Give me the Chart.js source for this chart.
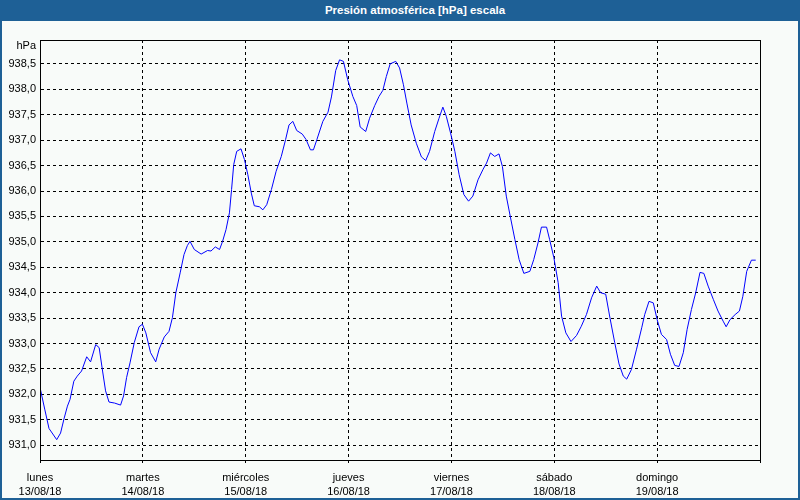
<!DOCTYPE html>
<html>
<head>
<meta charset="utf-8">
<script src="https://cdn.jsdelivr.net/npm/chart.js@4/dist/chart.umd.min.js"></script>
<style>
    html, body { margin: 0; padding: 0; background: #F8FBF9; }
    #wrap { position: relative; width: 800px; height: 500px; overflow: hidden; }
    #chart { position: absolute; left: 0; top: 0; }
    #title {
        position: absolute; left: 0; top: 0; width: 770px; height: 21px;
        padding-left: 30px;
        background: #1E6096; color: #fff;
        font: bold 11.5px "Liberation Sans", Arial, sans-serif;
        line-height: 21px; text-align: center;
    }
    #frame {
        position: absolute; left: 0; top: 0; width: 800px; height: 500px;
        box-sizing: border-box; border: 2px solid #1E6096; border-top: 0;
        pointer-events: none;
    }
</style>
</head>
<body>
<div id="wrap">
    <canvas id="chart" width="800" height="500"></canvas>
    <div id="title">Presión atmosférica [hPa] escala</div>
    <div id="frame"></div>
</div>
<script>
// Horas desde el lunes 13/08/18 00:00
const hours = [
    0.1, 1.1, 2.1, 3.9, 4.8, 5.6, 6.4, 7.0, 7.9, 8.7, 9.7, 10.9, 11.8, 13.0, 13.8, 14.6,
    15.3, 16.1, 17.4, 18.8, 19.5, 20.2, 21.0, 22.0, 23.1, 23.9, 24.7, 25.8, 27.0, 27.8,
    29.0, 30.1, 30.9, 31.7, 32.7, 33.6, 34.4, 35.0, 36.0, 37.6, 39.1, 39.9, 40.9, 41.9,
    42.6, 43.4, 44.2, 44.7, 45.2, 45.9, 46.9, 47.7, 48.5, 49.3, 50.0, 51.2, 52.0, 52.9,
    54.0, 55.1, 56.3, 57.3, 58.1, 59.0, 59.9, 61.2, 62.1, 63.1, 63.8, 64.6, 66.0, 67.2,
    68.0, 69.0, 69.9, 70.8, 71.8, 73.0, 73.9, 74.7, 76.0, 76.9, 78.1, 79.1, 80.0, 80.8,
    81.7, 83.0, 83.9, 84.8, 85.6, 86.6, 87.8, 89.0, 90.0, 90.9, 92.1, 93.1, 94.0, 94.8,
    95.8, 96.8, 97.8, 98.9, 100.0, 101.0, 102.2, 103.4, 104.2, 105.1, 106.1, 107.1, 107.9,
    108.8, 109.8, 110.8, 111.8, 112.9, 114.3, 115.2, 116.2, 117.0, 118.2, 118.9, 119.9,
    120.9, 121.7, 122.7, 123.9, 125.2, 126.3, 127.5, 128.7, 129.9, 130.8, 132.0, 133.0,
    134.1, 135.1, 136.1, 136.9, 138.0, 139.2, 140.4, 141.1, 142.1, 143.1, 144.0, 145.0,
    146.2, 147.1, 148.1, 149.1, 150.1, 151.0, 152.0, 153.0, 154.0, 154.9, 155.9, 157.1,
    158.2, 159.4, 160.1, 161.0, 162.2, 163.2, 164.0, 164.9, 166.0, 167.0
];

const pressure = [
    932.10, 931.71, 931.33, 931.11, 931.24, 931.52, 931.77, 931.90, 932.26, 932.36, 932.46, 932.74, 932.64, 932.98, 932.92, 932.46,
    932.07, 931.85, 931.83, 931.79, 931.97, 932.33, 932.62, 933.02, 933.33, 933.38, 933.21, 932.82, 932.64, 932.89,
    933.13, 933.24, 933.51, 934.00, 934.39, 934.75, 934.93, 935.01, 934.85, 934.76, 934.83, 934.82, 934.90, 934.85,
    935.01, 935.24, 935.57, 936.03, 936.52, 936.78, 936.83, 936.62, 936.32, 935.96, 935.71, 935.69, 935.63, 935.73,
    936.03, 936.39, 936.68, 937.01, 937.30, 937.37, 937.19, 937.12, 937.01, 936.81, 936.81, 937.01, 937.37, 937.55,
    937.85, 938.37, 938.58, 938.55, 938.19, 937.86, 937.68, 937.26, 937.17, 937.43, 937.68, 937.86, 937.98, 938.25,
    938.50, 938.55, 938.42, 938.09, 937.73, 937.30, 936.94, 936.67, 936.60, 936.78, 937.17, 937.43, 937.65, 937.47,
    937.14, 936.78, 936.32, 935.93, 935.80, 935.90, 936.22, 936.43, 936.55, 936.75, 936.68, 936.73, 936.48,
    935.90, 935.47, 935.05, 934.65, 934.38, 934.42, 934.65, 934.98, 935.29, 935.29, 935.05, 934.69,
    934.20, 933.54, 933.21, 933.04, 933.16, 933.34, 933.57, 933.90, 934.13, 934.00, 933.97, 933.50,
    933.02, 932.60, 932.36, 932.30, 932.49, 932.89, 933.31, 933.57, 933.83, 933.80, 933.47, 933.18,
    933.08, 932.79, 932.57, 932.55, 932.82, 933.28, 933.67, 934.00, 934.40, 934.38, 934.13, 933.87,
    933.64, 933.44, 933.33, 933.47, 933.57, 933.64, 933.93, 934.42, 934.64, 934.64
];

const dayNames = ['lunes', 'martes', 'miércoles', 'jueves', 'viernes', 'sábado', 'domingo'];
const dayDates = ['13/08/18', '14/08/18', '15/08/18', '16/08/18', '17/08/18', '18/08/18', '19/08/18'];
const yTickValues = [931.0, 931.5, 932.0, 932.5, 933.0, 933.5, 934.0, 934.5,
                     935.0, 935.5, 936.0, 936.5, 937.0, 937.5, 938.0, 938.5];

const FONT = '"Liberation Sans", Arial, sans-serif';

// Marco negro del área y unidad "hPa"
const framePlugin = {
    id: 'frame',
    afterDraw(chart) {
        const { ctx, chartArea: a } = chart;
        ctx.save();
        ctx.strokeStyle = '#000';
        ctx.lineWidth = 1;
        ctx.strokeRect(a.left + 0.5, a.top + 0.5, a.right - a.left, a.bottom - a.top);
        ctx.fillStyle = '#000';
        ctx.font = '11px ' + FONT;
        ctx.textAlign = 'right';
        ctx.textBaseline = 'middle';
        ctx.fillText('hPa', a.left - 4, a.top + 6);
        ctx.restore();
    }
};

new Chart(document.getElementById('chart'), {
    type: 'line',
    data: {
        datasets: [{
            data: hours.map((h, i) => ({ x: h, y: pressure[i] })),
            borderColor: '#0000FF',
            borderWidth: 1,
            pointRadius: 0,
            tension: 0,
            fill: false
        }]
    },
    options: {
        responsive: false,
        animation: false,
        events: [],
        layout: { padding: { left: 0, top: 40, right: 40, bottom: 0 } },
        plugins: { legend: { display: false }, tooltip: { enabled: false } },
        scales: {
            x: {
                type: 'linear',
                min: 0,
                max: 168,
                afterFit(scale) { scale.height = 40; },
                grid: { color: '#000', lineWidth: 1, drawTicks: true, tickLength: 3, tickColor: '#000', tickBorderDash: [] },
                border: { display: true, color: '#000', width: 1, dash: [3, 3] },
                ticks: {
                    stepSize: 24,
                    autoSkip: false,
                    maxRotation: 0,
                    padding: 8,
                    color: '#000',
                    font: { family: FONT, size: 11, lineHeight: 1.3 },
                    callback(value) {
                        const d = Math.round(value / 24);
                        return dayNames[d] ? [dayNames[d], dayDates[d]] : '';
                    }
                }
            },
            y: {
                type: 'linear',
                min: 930.71,
                max: 938.97,
                afterFit(scale) { scale.width = 40; },
                afterBuildTicks(scale) { scale.ticks = yTickValues.map(v => ({ value: v })); },
                grid: { color: '#000', lineWidth: 1, drawTicks: false },
                border: { display: true, color: '#000', width: 1, dash: [3, 3] },
                ticks: {
                    padding: 4,
                    color: '#000',
                    font: { family: FONT, size: 11 },
                    callback(value) { return value.toFixed(1).replace('.', ','); }
                }
            }
        }
    },
    plugins: [framePlugin]
});
</script>
</body>
</html>
